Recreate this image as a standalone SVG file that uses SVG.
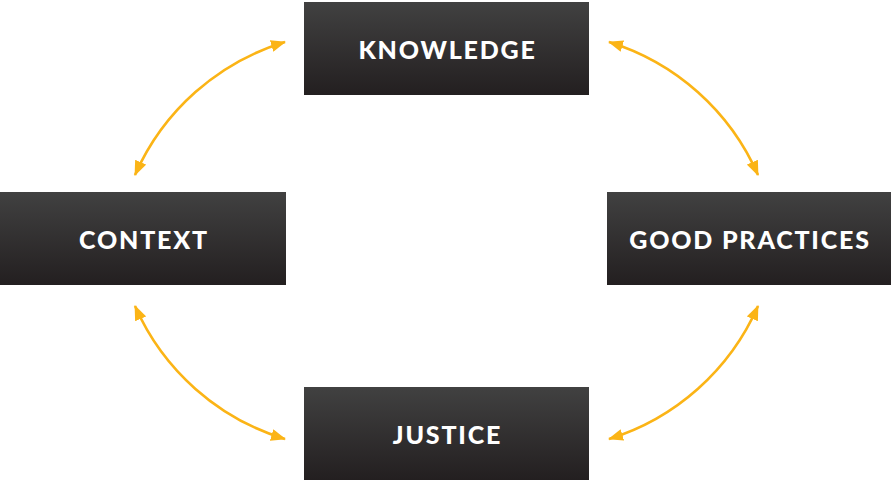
<svg xmlns="http://www.w3.org/2000/svg" width="891" height="480" viewBox="0 0 891 480">
<defs>
<linearGradient id="boxg" x1="0" y1="0" x2="0" y2="1">
<stop offset="0" stop-color="#414141"/>
<stop offset="1" stop-color="#231f20"/>
</linearGradient>
<marker id="ah" viewBox="0 0 15 12" refX="14" refY="6" markerWidth="15" markerHeight="12" markerUnits="userSpaceOnUse" orient="auto-start-reverse">
<path d="M0,0 L15,6 L0,12 Z" fill="#fbb416"/>
</marker>
<style>
.box{fill:url(#boxg);}
.lbl{font-family:Lato,"Open Sans","Liberation Sans",sans-serif;font-weight:900;font-size:25px;letter-spacing:1.8px;fill:#ffffff;text-anchor:middle;}
.arc{fill:none;stroke:#fbb416;stroke-width:2.6;marker-start:url(#ah);marker-end:url(#ah);}
</style>
</defs>
<rect width="891" height="480" fill="#ffffff"/>
<g id="connectors">
<path class="arc" d="M285,42 A240,240 0 0 0 135,175"/>
<path class="arc" d="M609,42 A240,240 0 0 1 758,175"/>
<path class="arc" d="M135,306 A240,240 0 0 0 285,439"/>
<path class="arc" d="M758,306 A240,240 0 0 1 609,439"/>
</g>
<g id="knowledge">
<rect class="box" x="304" y="2" width="285" height="93"/>
<text class="lbl" x="447.5" y="59">KNOWLEDGE</text>
</g>
<g id="context">
<rect class="box" x="0" y="192" width="286" height="93"/>
<text class="lbl" x="144" y="249">CONTEXT</text>
</g>
<g id="good-practices">
<rect class="box" x="607" y="192" width="284" height="93"/>
<text class="lbl" x="750" y="249">GOOD PRACTICES</text>
</g>
<g id="justice">
<rect class="box" x="304" y="387" width="285" height="93"/>
<text class="lbl" x="447.5" y="444">JUSTICE</text>
</g>
</svg>
